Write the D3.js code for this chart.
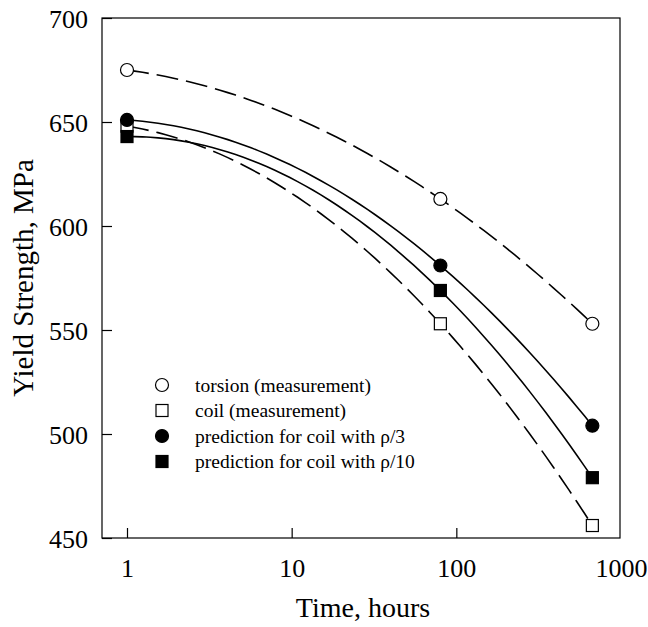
<!DOCTYPE html>
<html>
<head>
<meta charset="utf-8">
<script src="https://cdn.jsdelivr.net/npm/d3@7"></script>
<style>
  body { margin: 0; background: #fff; }
  text { font-family: "Liberation Serif", "Times New Roman", serif; fill: #000; }
</style>
</head>
<body>
<svg id="chart"></svg>
<script>
// Chart size and plot frame
const width = 648, height = 627;
const margin = { top: 18, right: 28, bottom: 89, left: 102 };

const svg = d3.select("#chart")
    .attr("width", width)
    .attr("height", height);

// Data
const hours = [1, 80, 670];
const torsion = [675, 613, 553];      // measurement, open circles
const coil = [648, 553, 456];         // measurement, open squares
const predRho3 = [651, 581, 504];     // prediction rho/3, filled circles
const predRho10 = [643, 569, 479];    // prediction rho/10, filled squares

const xTicks = [1, 10, 100, 1000];
const yTicks = [450, 500, 550, 600, 650, 700];

const series = [
    { name: "torsion (measurement)", values: torsion, shape: "circle", filled: false, dashed: true },
    { name: "coil (measurement)", values: coil, shape: "square", filled: false, dashed: true },
    { name: "prediction for coil with \u03C1/3", values: predRho3, shape: "circle", filled: true, dashed: false },
    { name: "prediction for coil with \u03C1/10", values: predRho10, shape: "square", filled: true, dashed: false }
];

// Scales
const x = d3.scaleLog().domain([0.705, 1000]).range([margin.left, width - margin.right + 1]);
const y = d3.scaleLinear().domain([450, 700]).range([height - margin.bottom, margin.top]);

const x0 = margin.left, x1 = width - margin.right, y0 = height - margin.bottom, y1 = margin.top;

// Frame
svg.append("rect")
    .attr("x", x0).attr("y", y1)
    .attr("width", x1 - x0).attr("height", y0 - y1)
    .attr("fill", "none").attr("stroke", "#000").attr("stroke-width", 1.2);

// Axes with inward ticks
const xAxis = svg.append("g")
    .attr("transform", `translate(0, ${y0})`)
    .call(d3.axisBottom(x).tickValues(xTicks).tickFormat(d3.format("d")).tickSizeInner(-10).tickSizeOuter(0).tickPadding(21));
xAxis.select(".domain").remove();
xAxis.selectAll(".tick line").filter(d => d > 900).remove();
xAxis.selectAll("text").attr("font-size", "26px").attr("font-family", "Liberation Serif");

const yAxis = svg.append("g")
    .attr("transform", `translate(${x0}, 0)`)
    .call(d3.axisLeft(y).tickValues(yTicks).tickSizeInner(-10).tickSizeOuter(0).tickPadding(14));
yAxis.select(".domain").remove();
yAxis.selectAll("text").attr("font-size", "26px").attr("font-family", "Liberation Serif").attr("dy", "0.36em");
svg.selectAll(".tick line").attr("stroke", "#000").attr("stroke-width", 1.2);

// Axis titles
svg.append("text")
    .attr("x", (x0 + x1) / 2 + 2).attr("y", 617)
    .attr("text-anchor", "middle").attr("font-size", "28px")
    .text("Time, hours");

svg.append("text")
    .attr("transform", `translate(33, ${(y0 + y1) / 2}) rotate(-90)`)
    .attr("text-anchor", "middle").attr("font-size", "29px")
    .text("Yield Strength, MPa");

// Quadratic fit in log(time) through the three points of each series
function quadFit(xs, ys) {
    const lx = xs.map(v => Math.log10(v));
    return t => {
        let s = 0;
        for (let i = 0; i < 3; i++) {
            let l = 1;
            for (let j = 0; j < 3; j++) if (j !== i) l *= (t - lx[j]) / (lx[i] - lx[j]);
            s += ys[i] * l;
        }
        return s;
    };
}

const line = d3.line().x(d => x(d[0])).y(d => y(d[1]));
const lx0 = Math.log10(hours[0]), lx1 = Math.log10(hours[hours.length - 1]);
const steps = d3.range(0, 61).map(i => lx0 + (lx1 - lx0) * i / 60);

series.forEach(s => {
    const f = quadFit(hours, s.values);
    svg.append("path")
        .datum(steps.map(t => [Math.pow(10, t), f(t)]))
        .attr("d", line)
        .attr("fill", "none")
        .attr("stroke", "#000")
        .attr("stroke-width", 1.6)
        .attr("stroke-dasharray", s.dashed ? "22,8" : null);
});

// Markers
function drawMarker(g, shape, filled, cx, cy) {
    if (shape === "circle") {
        g.append("circle").attr("cx", cx).attr("cy", cy).attr("r", 6.5)
            .attr("fill", filled ? "#000" : "#fff").attr("stroke", "#000").attr("stroke-width", 1.2);
    } else {
        g.append("rect").attr("x", cx - 6).attr("y", cy - 6).attr("width", 12).attr("height", 12)
            .attr("fill", filled ? "#000" : "#fff").attr("stroke", "#000").attr("stroke-width", 1.2);
    }
}

const markers = svg.append("g");
series.forEach(s => {
    s.values.forEach((v, i) => drawMarker(markers, s.shape, s.filled, x(hours[i]), y(v)));
});

// Legend
const legend = svg.append("g");
series.forEach((s, i) => {
    const ly = 385 + i * 25.5;
    drawMarker(legend, s.shape, s.filled, 162, ly);
    legend.append("text")
        .attr("x", 195).attr("y", ly).attr("dy", "0.35em")
        .attr("font-size", "19.5px")
        .text(s.name);
});
</script>
</body>
</html>
